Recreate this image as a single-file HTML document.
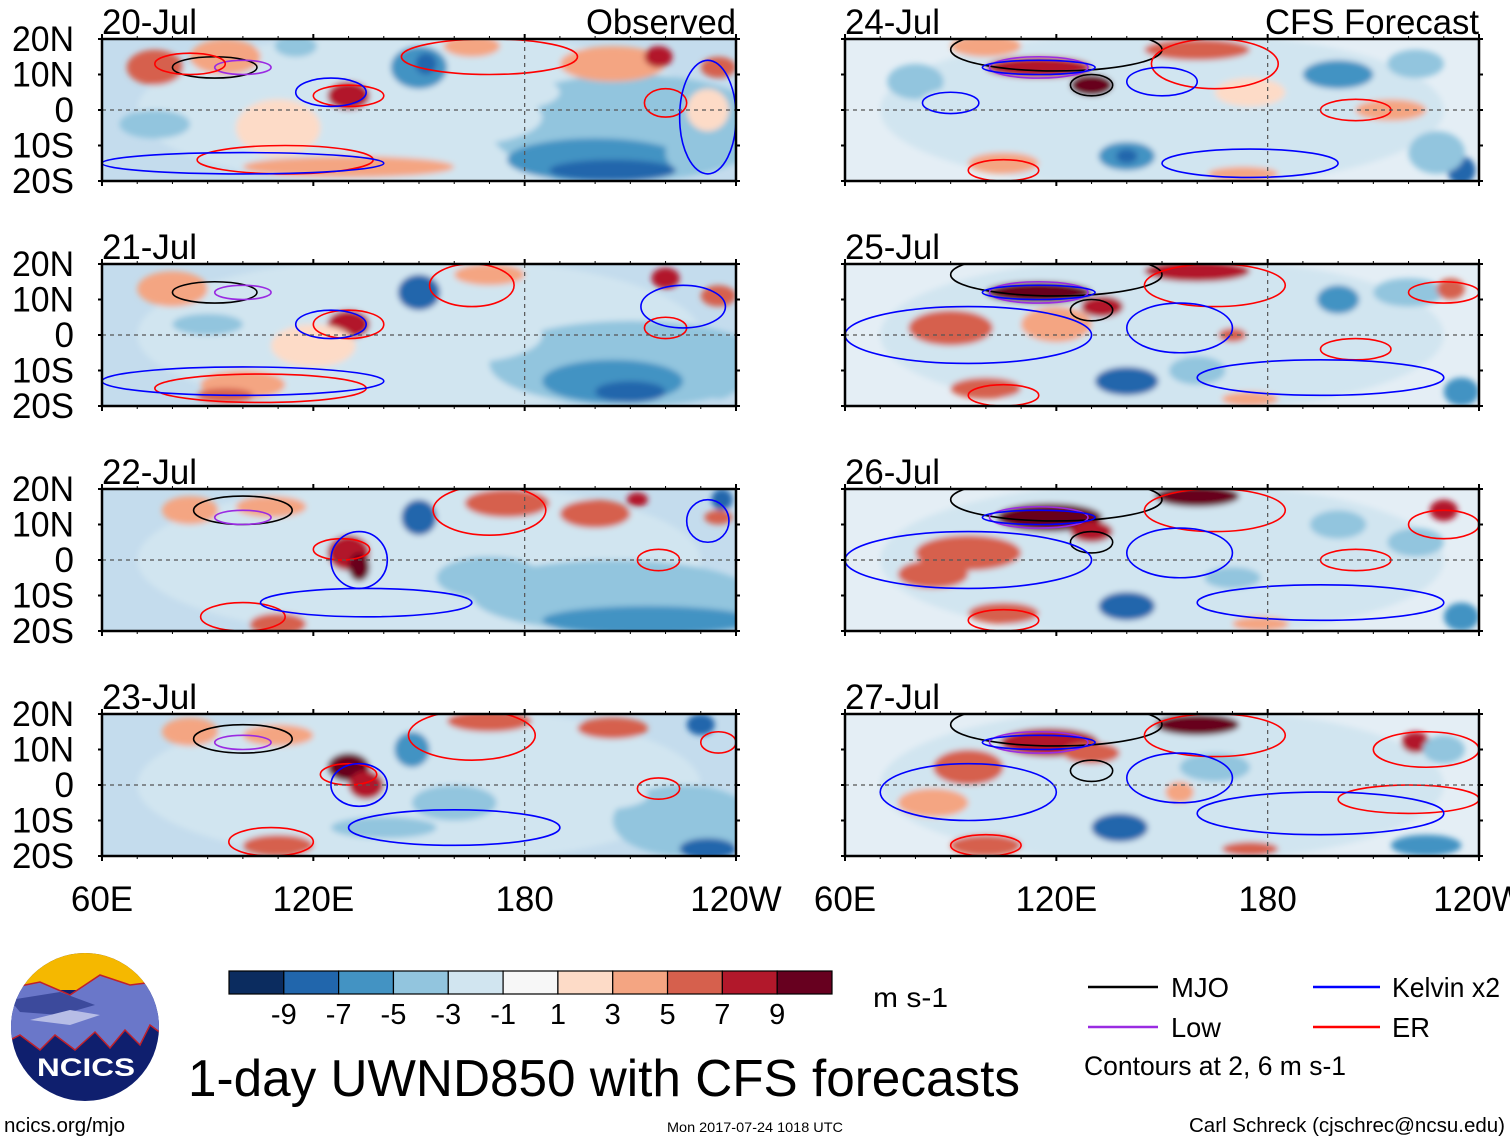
<!DOCTYPE html>
<html><head><meta charset="utf-8"><style>
body{margin:0;background:#fff;width:1510px;height:1142px;overflow:hidden}
svg{display:block}
text{font-family:"Liberation Sans",sans-serif;fill:#000}
</style></head><body>
<svg id="chart" width="1510" height="1142" viewBox="0 0 1510 1142" xmlns="http://www.w3.org/2000/svg">
<defs>
<filter id="blur" x="-50%" y="-50%" width="200%" height="200%"><feGaussianBlur stdDeviation="3"/></filter>
</defs>
<g id="panels"></g>
<g id="bottom">
 <g>
  <clipPath id="lc"><ellipse cx="85" cy="1027" rx="74" ry="74"/></clipPath>
  <g clip-path="url(#lc)">
   <rect x="0" y="950" width="170" height="160" fill="#0f1f6e"/>
   <rect x="0" y="950" width="170" height="40" fill="#f5b800"/>
   <path d="M0 990 L40 982 L70 995 L100 975 L130 985 L170 980 L170 1040 L150 1025 L140 1045 L125 1030 L110 1048 L95 1032 L75 1050 L55 1035 L40 1050 L20 1035 L0 1045Z" fill="#6a77c9" stroke="#c0202a" stroke-width="1.5"/>
   <path d="M10 1000 L60 992 L95 1005 L60 1015 L20 1012Z" fill="#3c4a9c"/>
   <path d="M30 1020 L70 1010 L100 1015 L70 1025Z" fill="#b7bde6"/>
  </g>
  <text x="86" y="1076" text-anchor="middle" font-size="25" font-weight="bold" style="fill:#fff" textLength="98" lengthAdjust="spacingAndGlyphs">NCICS</text>
 </g>
 <g id="cbar"></g>
 <text x="873" y="1007" font-size="28" textLength="75" lengthAdjust="spacingAndGlyphs">m s-1</text>
 <text x="188" y="1096" font-size="52" textLength="832" lengthAdjust="spacingAndGlyphs">1-day UWND850 with CFS forecasts</text>
 <g>
  <g><line x1="1088" y1="987" x2="1158" y2="987" stroke="#000" stroke-width="2.5"/><text x="1171" y="997" font-size="28" textLength="58" lengthAdjust="spacingAndGlyphs">MJO</text></g>
  <g><line x1="1313" y1="987" x2="1380" y2="987" stroke="#0000ff" stroke-width="2.5"/><text x="1392" y="997" font-size="28" textLength="108" lengthAdjust="spacingAndGlyphs">Kelvin x2</text></g>
  <g><line x1="1088" y1="1027" x2="1158" y2="1027" stroke="#9a2be2" stroke-width="2.5"/><text x="1171" y="1037" font-size="28" textLength="50" lengthAdjust="spacingAndGlyphs">Low</text></g>
  <g><line x1="1313" y1="1027" x2="1380" y2="1027" stroke="#ff0000" stroke-width="2.5"/><text x="1392" y="1037" font-size="28" textLength="38" lengthAdjust="spacingAndGlyphs">ER</text></g>
  <text x="1084" y="1075" font-size="27" textLength="262" lengthAdjust="spacingAndGlyphs">Contours at 2, 6 m s-1</text>
 </g>
 <text x="4" y="1132" font-size="20" textLength="121" lengthAdjust="spacingAndGlyphs">ncics.org/mjo</text>
 <text x="667" y="1132" font-size="14" textLength="176" lengthAdjust="spacingAndGlyphs">Mon 2017-07-24 1018 UTC</text>
 <text x="1189" y="1132" font-size="20" textLength="316" lengthAdjust="spacingAndGlyphs">Carl Schreck (cjschrec@ncsu.edu)</text>
</g>
</svg>
<script>
// colour scale
const levels=[-9,-7,-5,-3,-1,1,3,5,7,9];
const colors=["#0b2c5f","#2166ac","#4393c3","#92c5de","#d1e5f0","#f7f7f7","#fddbc7","#f4a582","#d6604d","#b2182b","#67001f"];
// panel metadata
const panelTitles=["20-Jul","21-Jul","22-Jul","23-Jul","24-Jul","25-Jul","26-Jul","27-Jul"];
const lonTicks=[60,120,180,240];
const lonLabels=["60E","120E","180","120W"];
const latTicks=[20,10,0,-10,-20];
const latLabels=["20N","10N","0","10S","20S"];
// anomaly blobs per panel: [lon, lat, value, lonHalfWidth, latHalfHeight]
const blobs0=[[150,0,-2,80,22],[210,-5,-4,40,15],[160,-2,-3,25,8],[75,12,5,8,5],[95,15,3,10,5],[130,4,7,6,4],[150,12,-6,8,6],[152,13,-9,3,3],[75,-4,-5,10,4],[110,-5,2,12,8],[130,-16,4,30,3],[200,-14,-7,25,6],[205,-17,-9,18,3],[228,-12,-5,8,6],[205,13,4,15,5],[218,15,8,4,3],[235,12,6,5,3],[165,18,3,8,3],[175,5,-3,15,5],[115,18,-4,6,3],[232,0,2,6,6]];
const blobs1=[[150,0,-2,80,22],[210,-8,-4,40,12],[160,0,-3,25,8],[80,13,3,10,5],[100,-14,3,12,4],[95,-17,6,8,2],[130,3,8,6,4],[150,12,-8,6,5],[152,14,-9,3,2],[120,-3,2,12,6],[205,-13,-7,20,6],[210,-16,-9,10,3],[170,17,4,10,3],[220,16,7,4,3],[235,11,5,5,3],[90,3,-4,10,3],[200,8,-2,20,4],[235,-12,-5,6,6]];
const blobs2=[[150,0,-2,80,22],[205,-10,-4,40,10],[215,-17,-6,30,4],[85,14,3,8,4],[108,15,4,10,3],[130,2,8,6,5],[133,-2,9,3,4],[150,12,-8,5,5],[151,13,-9,2,3],[110,-18,6,8,3],[175,16,5,12,4],[200,13,5,10,4],[212,17,8,3,2],[236,17,-9,3,3],[235,12,6,4,2],[80,0,-3,10,4],[170,-5,-4,15,6]];
const blobs3=[[150,0,-2,80,22],[225,-10,-4,20,10],[232,-18,-8,8,3],[230,17,-8,4,3],[85,15,4,8,4],[110,14,4,10,3],[130,5,9,6,4],[135,0,7,5,4],[148,10,-7,5,5],[110,-17,6,10,3],[170,18,6,12,3],[205,16,5,10,3],[100,2,-3,10,4],[160,-5,-4,12,5],[200,-3,-3,15,4],[140,-12,-4,15,3]];
const blobs4=[[150,0,-2,80,22],[115,12,8,15,3],[130,7,9,6,3],[100,18,4,10,3],[160,17,6,15,3],[140,-13,-7,8,4],[140,-13,-9,3,2],[200,10,-7,10,4],[222,13,-5,8,4],[80,8,-5,8,5],[235,-17,-9,4,4],[228,-12,-5,8,6],[105,-15,4,10,3],[173,-18,4,10,2],[190,-5,-3,15,6],[215,0,3,10,3],[175,5,2,10,4],[90,0,-3,10,6]];
const blobs5=[[150,0,-2,80,22],[115,12,9,15,3],[133,8,8,6,3],[160,18,8,15,3],[120,3,4,10,5],[90,2,5,12,5],[140,-13,-8,9,4],[200,10,-7,6,4],[220,12,-4,10,4],[232,13,6,4,3],[100,-15,5,10,3],[175,-18,4,8,2],[170,0,5,4,2],[235,-16,-6,5,4],[160,-10,-4,8,4]];
const blobs6=[[150,0,-2,80,22],[118,12,9,15,4],[160,18,9,12,3],[130,8,7,6,3],[95,2,6,15,5],[85,-4,5,10,4],[140,-13,-8,8,4],[200,10,-5,8,4],[230,14,7,4,3],[222,5,-4,8,4],[105,-15,6,10,3],[178,-18,4,8,2],[235,-16,-6,5,4],[170,-5,-4,8,3]];
const blobs7=[[150,0,-2,80,22],[118,12,8,14,4],[160,17,9,12,3],[130,9,6,8,3],[95,5,6,10,5],[85,-5,4,10,4],[138,-12,-8,8,4],[222,12,7,4,3],[230,10,-4,6,4],[100,-17,6,10,3],[175,-18,5,8,2],[225,-17,-6,10,3],[165,5,-4,10,4],[155,-2,4,4,3]];
const panelBlobs=[blobs0,blobs1,blobs2,blobs3,blobs4,blobs5,blobs6,blobs7];
// contour rings per panel: [lon, lat, lonHalf, latHalf, type]
const rings0=[[92,12,12,3,"mjo"],[100,12,8,2,"low"],[130,4,10,3,"er"],[112,-14,25,4,"er"],[100,-15,40,3,"kelvin"],[125,5,10,4,"kelvin"],[220,2,6,4,"er"],[170,15,25,5,"er"],[232,-2,8,16,"kelvin"],[85,13,10,3,"er"]];
const rings1=[[92,12,12,3,"mjo"],[100,12,8,2,"low"],[130,3,10,4,"er"],[105,-15,30,4,"er"],[100,-13,40,4,"kelvin"],[125,3,10,4,"kelvin"],[220,2,6,3,"er"],[165,14,12,6,"er"],[225,8,12,6,"kelvin"]];
const rings2=[[100,14,14,4,"mjo"],[100,12,8,2,"low"],[128,3,8,3,"er"],[100,-16,12,4,"er"],[135,-12,30,4,"kelvin"],[133,0,8,8,"kelvin"],[218,0,6,3,"er"],[170,14,16,7,"er"],[232,11,6,6,"kelvin"]];
const rings3=[[100,13,14,4,"mjo"],[100,12,8,2,"low"],[130,3,8,3,"er"],[108,-16,12,4,"er"],[160,-12,30,5,"kelvin"],[133,0,8,6,"kelvin"],[218,-1,6,3,"er"],[165,14,18,7,"er"],[235,12,5,3,"er"]];
const rings4=[[120,17,30,6,"mjo"],[115,12,14,3,"low"],[130,7,6,3,"mjo"],[115,12,16,2,"kelvin"],[165,13,18,7,"er"],[90,2,8,3,"kelvin"],[105,-17,10,3,"er"],[205,0,10,3,"er"],[175,-15,25,4,"kelvin"],[150,8,10,4,"kelvin"]];
const rings5=[[120,17,30,6,"mjo"],[115,12,14,3,"low"],[130,7,6,3,"mjo"],[115,12,16,2,"kelvin"],[165,14,20,6,"er"],[95,0,35,8,"kelvin"],[105,-17,10,3,"er"],[205,-4,10,3,"er"],[195,-12,35,5,"kelvin"],[155,2,15,7,"kelvin"],[230,12,10,3,"er"]];
const rings6=[[120,17,30,6,"mjo"],[115,12,14,3,"low"],[130,5,6,3,"mjo"],[115,12,16,2,"kelvin"],[165,14,20,6,"er"],[95,0,35,8,"kelvin"],[105,-17,10,3,"er"],[205,0,10,3,"er"],[195,-12,35,5,"kelvin"],[155,2,15,7,"kelvin"],[230,10,10,4,"er"]];
const rings7=[[120,17,30,6,"mjo"],[115,12,14,3,"low"],[130,4,6,3,"mjo"],[115,12,16,2,"kelvin"],[165,14,20,6,"er"],[95,-2,25,8,"kelvin"],[100,-17,10,3,"er"],[220,-4,20,4,"er"],[195,-8,35,6,"kelvin"],[155,2,15,7,"kelvin"],[225,10,15,5,"er"]];
const panelRings=[rings0,rings1,rings2,rings3,rings4,rings5,rings6,rings7];
const ringColors={mjo:"#000000",low:"#9a2be2",er:"#ff0000",kelvin:"#0000ff"};

const NS="http://www.w3.org/2000/svg";
function mk(tag,attrs,parent){const e=document.createElementNS(NS,tag);for(const k in attrs)e.setAttribute(k,attrs[k]);parent.appendChild(e);return e;}
function colorFor(v){let i=0;while(i<levels.length&&v>=levels[i])i++;return colors[i];}
const PW=634,PH=142;
const origins=[[102,39],[102,264],[102,489],[102,714],[845,39],[845,264],[845,489],[845,714]];
const root=document.getElementById('panels');
panelTitles.forEach((title,p)=>{
  const x0=origins[p][0],y0=origins[p][1];
  const lonX=lon=>x0+(lon-60)/180*PW;
  const latY=lat=>y0+(20-lat)/40*PH;
  const g=mk('g',{},root);
  
  
  const cid='clip'+p;
  const cp=mk('clipPath',{id:cid},g);mk('rect',{x:x0,y:y0,width:PW,height:PH},cp);
  const field=mk('g',{'clip-path':'url(#'+cid+')'},g);
  
  
  mk('rect',{x:x0,y:y0,width:PW,height:PH,fill:p<4?'#c4dced':'#e4eef5'},field);
  const bg=mk('g',{filter:'url(#blur)'},field);
  panelBlobs[p].forEach(b=>{
    const e=mk('ellipse',{cx:lonX(b[0]),cy:latY(b[1]),rx:b[3]/180*PW,ry:b[4]/40*PH,fill:colorFor(b[2])},bg);
    
    
  });
  panelRings[p].forEach(r=>{
    const e=mk('ellipse',{cx:lonX(r[0]),cy:latY(r[1]),rx:r[2]/180*PW,ry:r[3]/40*PH,fill:'none',stroke:ringColors[r[4]],'stroke-width':1.6},field);
    
    
  });
  mk('line',{x1:x0,y1:latY(0),x2:x0+PW,y2:latY(0),stroke:'#555','stroke-width':1.2,'stroke-dasharray':'4,4'},g);
  mk('line',{x1:lonX(180),y1:y0,x2:lonX(180),y2:y0+PH,stroke:'#555','stroke-width':1.2,'stroke-dasharray':'4,4'},g);
  mk('rect',{x:x0,y:y0,width:PW,height:PH,fill:'none',stroke:'#000','stroke-width':2.5},g);
  for(let lon=60;lon<=240;lon+=10){const big=lonTicks.includes(lon);
    mk('line',{x1:lonX(lon),y1:y0+PH,x2:lonX(lon),y2:y0+PH+(big?5:3),stroke:'#000','stroke-width':big?2:1},g);
    mk('line',{x1:lonX(lon),y1:y0,x2:lonX(lon),y2:y0-(big?5:3),stroke:'#000','stroke-width':big?2:1},g);}
  latTicks.forEach(lat=>{mk('line',{x1:x0-4,y1:latY(lat),x2:x0,y2:latY(lat),stroke:'#000','stroke-width':2},g);mk('line',{x1:x0+PW,y1:latY(lat),x2:x0+PW+4,y2:latY(lat),stroke:'#000','stroke-width':2},g);});
  const t=mk('text',{x:x0,y:y0-5,'font-size':35,textLength:95,lengthAdjust:'spacingAndGlyphs'},g);t.textContent=title;
  
  
  if(p<4){latTicks.forEach((lat,i)=>{const l=mk('text',{x:x0-28,y:latY(lat)+12,'font-size':35,'text-anchor':'end'},g);l.textContent=latLabels[i];
    if(latLabels[i].length===3){l.setAttribute('textLength','62');l.setAttribute('lengthAdjust','spacingAndGlyphs');}
    
    });}
  if(p===0||p===4){const s=mk('text',{x:x0+PW,y:y0-5,'font-size':35,'text-anchor':'end',textLength:p===0?150:214,lengthAdjust:'spacingAndGlyphs'},g);s.textContent=p===0?'Observed':'CFS Forecast';
    
    }
  if(p===3||p===7){lonTicks.forEach((lon,i)=>{const l=mk('text',{x:lonX(lon),y:911,'font-size':35,'text-anchor':'middle'},g);l.textContent=lonLabels[i];
    
    });}
});
// colorbar
const cb=document.getElementById('cbar');
const cbX=229,cbW=603,cbY=971,cbH=23,bw=cbW/colors.length;
colors.forEach((c,i)=>{const r=mk('rect',{x:cbX+i*bw,y:cbY,width:bw,height:cbH,fill:c,stroke:'#000','stroke-width':1.2},cb);
  
  });
levels.forEach((v,i)=>{const t=mk('text',{x:cbX+(i+1)*bw,y:1024,'font-size':29,'text-anchor':'middle'},cb);t.textContent=v;
  
  });
</script>
</body></html>
